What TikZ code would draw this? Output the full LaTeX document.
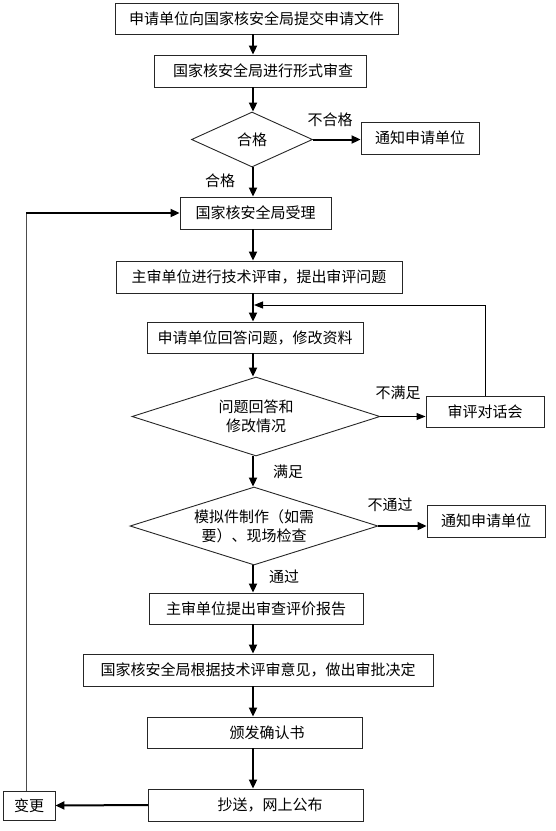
\documentclass[tikz,border=0pt]{standalone}
\usepackage{fontspec}
\setmainfont{Noto Sans CJK SC}
\usetikzlibrary{arrows.meta,shapes.geometric}
\begin{document}
\begin{tikzpicture}[x=1pt,y=-1pt,
  font=\fontsize{15}{19}\selectfont,
  box/.style={draw=black!85,line width=0.9pt,inner sep=0pt,align=center},
  dia/.style={draw=black!85,line width=0.9pt,diamond,shape aspect=3,inner sep=0pt,align=center},
  arr/.style={line width=2pt,-{Triangle[length=9pt,width=8pt]}},
  tarr/.style={line width=0.9pt,-{Triangle[length=9pt,width=7pt]}},
  thinl/.style={line width=0.9pt,draw=black!70},
  lab/.style={inner sep=0pt}]
\useasboundingbox (0,0) rectangle (555,831);
\coordinate (spine) at (253,0);
\node[box,minimum width=283,minimum height=31] (b1) at (256.5,18.5) {申请单位向国家核安全局提交申请文件};
\node[box,minimum width=212,minimum height=32] (b2) at (260,71) {\hspace*{6pt}国家核安全局进行形式审查};
\node[dia,minimum width=121,minimum height=55] (d1) at (252,139.5) {合格};
\node[box,minimum width=118,minimum height=32] (n1) at (420,138) {通知申请单位};
\node[box,minimum width=151,minimum height=32] (b4) at (255.5,213) {国家核安全局受理};
\node[box,minimum width=286,minimum height=32] (b5) at (259,277) {主审单位进行技术评审，提出审评问题};
\node[box,minimum width=216,minimum height=31] (b6) at (255,337.5) {申请单位回答问题，修改资料};
\node[dia,minimum width=248,minimum height=79] (d2) at (256,416.5) {问题回答和\\修改情况};
\node[box,minimum width=118,minimum height=31] (dlg) at (485,411.5) {审评对话会};
\node[dia,minimum width=248,minimum height=78] (d3) at (254,526) {模拟件制作（如需\\要）、现场检查};
\node[box,minimum width=118,minimum height=32] (n2) at (486,521) {通知申请单位};
\node[box,minimum width=214,minimum height=31] (b9) at (256,608.5) {主审单位提出审查评价报告};
\node[box,minimum width=350,minimum height=32] (b10) at (258,670) {国家核安全局根据技术评审意见，做出审批决定};
\node[box,minimum width=215,minimum height=31] (b11) at (255,732.5) {\hspace*{24pt}颁发确认书};
\node[box,minimum width=215,minimum height=32] (b12) at (256,805) {\hspace*{28pt}抄送，网上公布};
\node[box,minimum width=52,minimum height=29] (chg) at (29,805.5) {变更};
% labels
\node[lab] (l1) at (330,120) {不合格};
\node[lab] (l2) at (220,181) {合格};
\node[lab] (l3) at (398,393) {不满足};
\node[lab] (l4) at (288,472) {满足};
\node[lab] (l5) at (390,505) {不通过};
\node[lab] (l6) at (284,577) {通过};
% spine arrows
\draw[arr] (b1.south -| spine) -- (b2.north -| spine);
\draw[arr] (b2.south -| spine) -- (d1.north -| spine);
\draw[arr] (d1.south -| spine) -- (b4.north -| spine);
\draw[arr] (b4.south -| spine) -- (b5.north -| spine);
\draw[arr] (b5.south -| spine) -- (b6.north -| spine);
\draw[arr] (b6.south -| spine) -- (d2.north -| spine);
\draw[arr] (d2.south -| spine) -- (d3.north -| spine);
\draw[arr] (d3.south -| spine) -- (b9.north -| spine);
\draw[arr] (b9.south -| spine) -- (b10.north -| spine);
\draw[arr] (b10.south -| spine) -- (b11.north -| spine);
\draw[arr] (b11.south -| spine) -- (b12.north -| spine);
% side arrows
\draw[arr] (d1.east) -- (n1.west |- d1.east);
\draw[tarr] (d2.east) -- (dlg.west |- d2.east);
\draw[arr] (d3.east) -- (n2.west |- d3.east);
\draw[arr] (b12.west) -- (chg.east);
% feedback from dialogue
\coordinate (fb) at (254,305);
\draw[tarr] (dlg.north) |- (fb);
% left loop
\coordinate (lc) at (26,213);
\draw[thinl] (chg.north -| lc) -- (lc);
\draw[arr] (lc) -- (b4.west);
\end{tikzpicture}
\end{document}
